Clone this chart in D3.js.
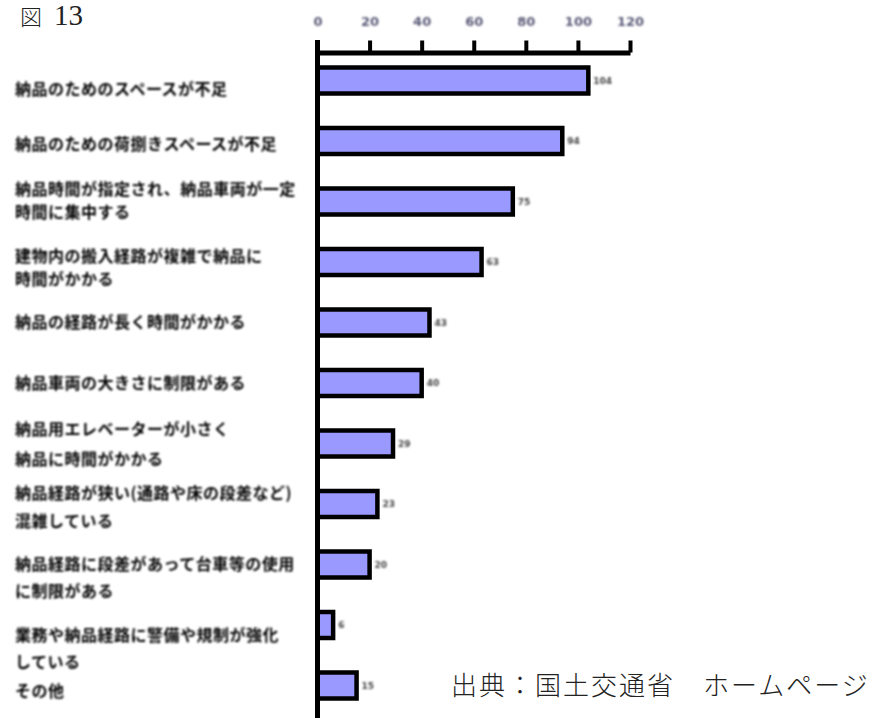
<!DOCTYPE html>
<html>
<head>
<meta charset="utf-8">
<script src="https://cdn.jsdelivr.net/npm/d3@7"></script>
<style>
  body { margin: 0; background: #fff; }
  svg { display: block; }
</style>
</head>
<body>
<svg id="chart" width="877" height="718"></svg>
<script>
// ---- data ----
const categories = [
  "納品のためのスペースが不足",
  "納品のための荷捌きスペースが不足",
  "納品時間が指定され、納品車両が一定時間に集中する",
  "建物内の搬入経路が複雑で納品に時間がかかる",
  "納品の経路が長く時間がかかる",
  "納品車両の大きさに制限がある",
  "納品用エレベーターが小さく納品に時間がかかる",
  "納品経路が狭い(通路や床の段差など)混雑している",
  "納品経路に段差があって台車等の使用に制限がある",
  "業務や納品経路に警備や規制が強化している",
  "その他"
];
const labelLines = [
  ["納品のためのスペースが不足"],
  ["納品のための荷捌きスペースが不足"],
  ["納品時間が指定され、納品車両が一定", "時間に集中する"],
  ["建物内の搬入経路が複雑で納品に", "時間がかかる"],
  ["納品の経路が長く時間がかかる"],
  ["納品車両の大きさに制限がある"],
  ["納品用エレベーターが小さく", "納品に時間がかかる"],
  ["納品経路が狭い(通路や床の段差など)", "混雑している"],
  ["納品経路に段差があって台車等の使用", "に制限がある"],
  ["業務や納品経路に警備や規制が強化", "している"],
  ["その他"]
];
const values = [104, 94, 75, 63, 43, 40, 29, 23, 20, 6, 15];
const tickValues = [0, 20, 40, 60, 80, 100, 120];
const titleMark = "図";
const titleNumber = "13";
const sourceText = "出典：国土交通省　ホームページ";

// ---- layout ----
const labelShift   = [7, 2, -14, -7.5, -2, -1.5, -15.5, -12, -1.5, 9, 4.5];
const labelLeading = [0, 0, 23, 23, 0, 0, 30, 28, 27, 27, 0];

const svg = d3.select("#chart");

const defs = svg.append("defs");
defs.append("filter").attr("id", "soft")
  .attr("x", "-10%").attr("y", "-40%").attr("width", "120%").attr("height", "180%")
  .append("feGaussianBlur").attr("stdDeviation", 1.0);
defs.append("filter").attr("id", "softer")
  .attr("x", "-30%").attr("y", "-60%").attr("width", "160%").attr("height", "220%")
  .append("feGaussianBlur").attr("stdDeviation", 1.3);

const x = d3.scaleLinear().domain([0, 120]).range([317.5, 630]);
const y = d3.scaleBand()
  .domain(categories)
  .range([50.25, 715.75])
  .paddingInner(0.57)
  .paddingOuter(0.285);

// bars
svg.append("g")
  .selectAll("rect")
  .data(values)
  .join("rect")
  .attr("x", x(0))
  .attr("y", (d, i) => y(categories[i]))
  .attr("width", d => x(d) - x(0))
  .attr("height", y.bandwidth())
  .attr("fill", "#9999ff")
  .attr("stroke", "#000")
  .attr("stroke-width", 4.5);

// value labels
svg.append("g")
  .attr("filter", "url(#softer)")
  .selectAll("text")
  .data(values)
  .join("text")
  .attr("x", d => x(d) + 5)
  .attr("y", (d, i) => y(categories[i]) + y.bandwidth() / 2)
  .attr("dominant-baseline", "central")
  .attr("font-family", "'DejaVu Sans', sans-serif")
  .attr("font-size", 9)
  .attr("font-weight", "bold")
  .attr("fill", "#444")
  .text(d => d);

// top value axis
const axis = svg.append("g")
  .attr("transform", "translate(0,52.5)")
  .call(d3.axisTop(x).tickValues(tickValues).tickSize(12).tickSizeOuter(0).tickPadding(15));
axis.select(".domain").attr("stroke", "#000").attr("stroke-width", 5);
axis.selectAll(".tick line").attr("stroke", "#000").attr("stroke-width", 4);
axis.selectAll(".tick text")
  .attr("font-family", "'DejaVu Sans', sans-serif")
  .attr("font-size", 13)
  .attr("font-weight", "bold")
  .attr("fill", "#5a5a78")
  .attr("filter", "url(#softer)");

// category axis line
svg.append("line")
  .attr("x1", x(0)).attr("x2", x(0))
  .attr("y1", 40).attr("y2", 718)
  .attr("stroke", "#000")
  .attr("stroke-width", 5);

// category labels
const lab = svg.append("g")
  .attr("filter", "url(#soft)")
  .attr("font-family", "'Noto Sans CJK JP', sans-serif")
  .attr("font-size", 16)
  .attr("font-weight", "bold")
  .attr("letter-spacing", 0.5)
  .attr("fill", "#000");
labelLines.forEach((lines, i) => {
  const cy = y(categories[i]) + y.bandwidth() / 2 + labelShift[i];
  lines.forEach((line, j) => {
    lab.append("text")
      .attr("x", 15)
      .attr("y", cy + j * labelLeading[i])
      .attr("dominant-baseline", "central")
      .text(line);
  });
});

// title
const title = svg.append("text")
  .attr("y", 25)
  .attr("fill", "#222");
title.append("tspan")
  .attr("x", 20)
  .attr("font-family", "'Noto Sans CJK JP', sans-serif")
  .attr("font-weight", 300)
  .attr("font-size", 22)
  .text(titleMark);
title.append("tspan")
  .attr("x", 54)
  .attr("font-family", "'Liberation Serif', serif")
  .attr("font-size", 29)
  .text(titleNumber);

// source note
svg.append("text")
  .attr("x", 451)
  .attr("y", 695)
  .attr("font-family", "'Noto Sans CJK JP', sans-serif")
  .attr("font-weight", 300)
  .attr("font-size", 26)
  .attr("letter-spacing", 2)
  .attr("fill", "#222")
  .text(sourceText);
</script>
</body>
</html>
